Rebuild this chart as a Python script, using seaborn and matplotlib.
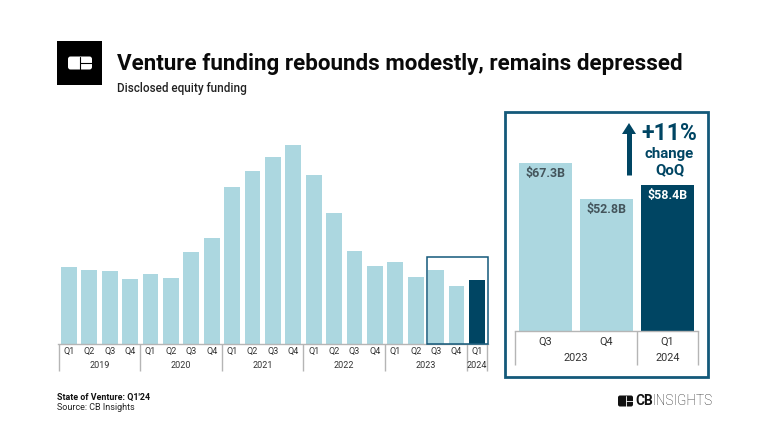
import matplotlib
matplotlib.use("Agg")
import matplotlib.pyplot as plt
import seaborn as sns
import pandas as pd
from matplotlib.patches import Rectangle, FancyBboxPatch, Polygon
from matplotlib.transforms import blended_transform_factory

quarters = ["Q1","Q2","Q3","Q4"]*5 + ["Q1"]
years = [2019]*4 + [2020]*4 + [2021]*4 + [2022]*4 + [2023]*4 + [2024]
funding = [70.0,67.2,66.3,59.6,64.2,60.5,83.8,97.0,143.9,158.5,170.9,181.9,
           154.9,120.0,84.7,70.9,74.6,60.8,67.3,52.8,58.4]
zoom_quarters = ["Q3","Q4","Q1"]
zoom_years = [2023,2023,2024]
zoom_funding = [67.3,52.8,58.4]
zoom_labels = ["$67.3B","$52.8B","$58.4B"]

LIGHT="#acd7e0"; DARK="#004563"; FRAME="#14597a"; GREY="#b5b5b5"; TXT="#333333"; VAL="#44555c"
W,H=768,432
sns.set_theme(style="white")
plt.rcParams['font.family']=['Roboto','DejaVu Sans']
fig=plt.figure(figsize=(W/100,H/100),dpi=100,facecolor="white")

def axpx(l,t,r,b,**k):
    return fig.add_axes([l/W,1-b/H,(r-l)/W,(b-t)/H],**k)

def draw(ax,q,y,v,width,qsize,ysize,qy,yy,linedrop):
    df=pd.DataFrame({"period":[f"{a} {b}#{i}" for i,(a,b) in enumerate(zip(y,q))],"value":v})
    df["state"]=["old"]*(len(v)-1)+["new"]
    sns.barplot(data=df,x="period",y="value",hue="state",palette={"old":LIGHT,"new":DARK},
                dodge=False,width=width,legend=False,ax=ax,linewidth=0,saturation=1)
    ax.set_xlabel("");ax.set_ylabel("");ax.set_yticks([])
    ax.set_xticks([]);
    for s in ["top","left","right"]: ax.spines[s].set_visible(False)
    ax.spines["bottom"].set_color(GREY);ax.spines["bottom"].set_linewidth(1)
    ax.patch.set_alpha(0)
    tr=blended_transform_factory(ax.transData,ax.transAxes)
    axh=ax.get_position().height*H
    for i,lab in enumerate(q):
        ax.text(i,-qy/axh,lab,transform=tr,ha="center",va="center",fontsize=qsize,color=TXT)
    xl=ax.get_xlim()
    uniq=list(dict.fromkeys(y))
    edges=[]
    for u in uniq:
        idx=[i for i,a in enumerate(y) if a==u]
        a,b=idx[0]-.5,idx[-1]+.5
        a=max(a,xl[0]);b=min(b,xl[1])
        edges+= [a,b]
        ax.text((a+b)/2,-yy/axh,str(u),transform=tr,ha="center",va="center",fontsize=ysize,color=TXT)
    for e in sorted(set(edges)):
        ax.plot([e,e],[0,-linedrop/axh],transform=tr,color=GREY,lw=1,clip_on=False,solid_capstyle="butt")

# left chart: centres 68.9 + 20.4*i, axis from 58 to 487.5
step=20.4; c0=68.9
ax=axpx(58,120,487.5,343.5)
draw(ax,quarters,years,funding,0.77,6.5,6.5,8.3,21.7,27)
ax.set_xlim((58-c0)/step,(487.5-c0)/step)
ax.set_ylim(0,(343.5-120)/1.09)

# right chart: centres 545.5,606.5,667.5
ax2=axpx(515,120,698,330.5)
draw(ax2,zoom_quarters,zoom_years,zoom_funding,0.87,7.8,7.8,11,27.5,34)
ax2.set_xlim((515-545.5)/61,(698-545.5)/61)
ax2.set_ylim(0,(330.5-120)/2.495)
for i,(v,l) in enumerate(zip(zoom_funding,zoom_labels)):
    ax2.annotate(l,(i,v),xytext=(0,-11),textcoords="offset pixels",ha="center",va="center",
                 fontsize=8.9,fontweight="bold",color="white" if i==2 else VAL)

ov=fig.add_axes([0,0,1,1],facecolor="none");ov.set_xlim(0,W);ov.set_ylim(H,0);ov.axis("off")
ov.add_patch(Rectangle((426.5,257),61,87,fill=False,ec=FRAME,lw=1.1))
ov.add_patch(Rectangle((504.5,112),203,265,fill=False,ec=FRAME,lw=2))
# arrow
ov.plot([629,629],[175,130],color=DARK,lw=3.6,solid_capstyle="butt")
ov.add_patch(Polygon([[622,134],[636,134],[629,123]],fc=DARK,ec="none"))
ov.text(669.5,133.5,"+11%",ha="center",va="center",fontsize=16.6,fontweight="bold",color=DARK)
ov.text(669.5,154,"change",ha="center",va="center",fontsize=10.8,fontweight="bold",color=DARK)
ov.text(669.5,170,"QoQ",ha="center",va="center",fontsize=10.8,fontweight="bold",color=DARK)
# header
ov.add_patch(Rectangle((57,41),45,44,fc="black",ec="none"))
ov.add_patch(FancyBboxPatch((68,56.5),24,13,boxstyle="round,pad=0,rounding_size=2.5",fc="white",ec="none"))
ov.plot([80,80],[56.5,69.5],color="black",lw=.8);ov.plot([80,92],[63,63],color="black",lw=.8)
ov.text(117,64,"Venture funding rebounds modestly, remains depressed",ha="left",va="center",
        fontsize=16.15,fontweight="bold",color="#0a0a0a")
ov.text(117,88.5,"Disclosed equity funding",ha="left",va="center",fontsize=8.5,fontweight="medium",color="#222222")
# footer
ov.text(57,397,"State of Venture: Q1'24",ha="left",va="center",fontsize=6.4,fontweight="bold",color="#111111")
ov.text(57,408,"Source: CB Insights",ha="left",va="center",fontsize=6.5,color="#222222")
ov.add_patch(FancyBboxPatch((618,395.5),15,11,boxstyle="round,pad=0,rounding_size=2",fc="#111111",ec="none"))
ov.plot([626,626],[395.5,406.5],color="white",lw=.6);ov.plot([626,633],[401,401],color="white",lw=.6)
ov.text(635,401,"CB",ha="left",va="center",fontsize=9.8,fontweight="bold",color="#111111")
ov.text(652,401,"INSIGHTS",ha="left",va="center",fontsize=9.8,fontweight="light",color="#222222")
fig.savefig("out.png",dpi=100,facecolor="white")
